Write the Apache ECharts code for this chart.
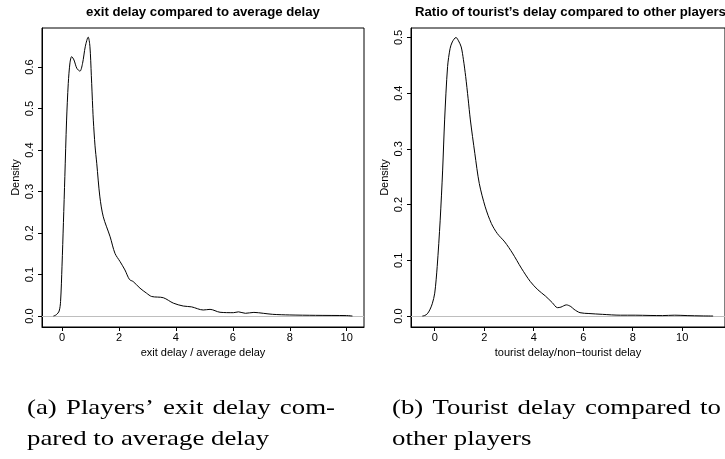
<!DOCTYPE html>
<html>
<head>
<meta charset="utf-8">
<script src="https://cdn.jsdelivr.net/npm/echarts@6/dist/echarts.min.js"></script>
<style>
html,body{margin:0;padding:0;background:#fff;}
#chart{width:725px;height:459px;}
</style>
</head>
<body>
<div id="chart"></div>
<script>
// ---- data ----
const exitX = [-0.3, -0.2, -0.1, -0.05, 0, 0.05, 0.1, 0.16, 0.22, 0.28, 0.34, 0.42, 0.52, 0.63, 0.72, 0.82, 0.92, 0.98, 1.03, 1.08, 1.1, 1.16, 1.22, 1.33, 1.45, 1.69, 1.86, 2.04, 2.21, 2.37, 2.5, 2.74, 2.97, 3.15, 3.56, 3.91, 4.26, 4.55, 4.96, 5.2, 5.55, 6.02, 6.2, 6.44, 6.74, 7.07, 7.4, 8.0, 8.9, 10.0, 10.2];
const exitY = [0, 0.003, 0.012, 0.035, 0.12, 0.225, 0.336, 0.47, 0.56, 0.61, 0.625, 0.617, 0.597, 0.59, 0.608, 0.65, 0.672, 0.65, 0.58, 0.5, 0.472, 0.41, 0.368, 0.287, 0.239, 0.191, 0.151, 0.131, 0.111, 0.088, 0.083, 0.067, 0.055, 0.047, 0.044, 0.031, 0.024, 0.022, 0.0145, 0.016, 0.009, 0.008, 0.01, 0.0065, 0.0087, 0.0065, 0.004, 0.0025, 0.0016, 0.001, 0];

const tourX = [-0.5, -0.4, -0.3, -0.2, -0.1, 0, 0.1, 0.22, 0.32, 0.4, 0.52, 0.62, 0.71, 0.86, 0.96, 1.07, 1.16, 1.25, 1.35, 1.44, 1.62, 1.8, 2.04, 2.29, 2.53, 2.83, 3.14, 3.5, 3.86, 4.17, 4.47, 4.75, 4.96, 5.1, 5.32, 5.5, 5.63, 5.87, 6.23, 6.78, 7.5, 8.1, 8.7, 9.2, 9.7, 10.2, 10.8, 11.25];
const tourY = [0, 0.001, 0.004, 0.011, 0.022, 0.041, 0.089, 0.172, 0.262, 0.352, 0.448, 0.48, 0.492, 0.5, 0.494, 0.483, 0.46, 0.43, 0.39, 0.352, 0.292, 0.238, 0.196, 0.166, 0.148, 0.133, 0.113, 0.086, 0.062, 0.047, 0.036, 0.024, 0.015, 0.016, 0.020, 0.017, 0.012, 0.006, 0.0045, 0.003, 0.0015, 0.0015, 0.001, 0.0008, 0.0015, 0.0008, 0.0002, 0];

const xTicks = [0, 2, 4, 6, 8, 10];
const yTicksA = [0, 0.1, 0.2, 0.3, 0.4, 0.5, 0.6];
const yTicksB = [0, 0.1, 0.2, 0.3, 0.4, 0.5];

const titleA = "exit delay compared to average delay";
const titleB = "Ratio of tourist\u2019s delay compared to other players";
const xNameA = "exit delay / average delay";
const xNameB = "tourist delay/non\u2212tourist delay";
const yName = "Density";

const capA1 = ["(a)", "Players\u2019", "exit", "delay", "com-"];
const capA2 = ["pared", "to", "average", "delay"];
const capB1 = ["(b)", "Tourist", "delay", "compared", "to"];
const capB2 = ["other", "players"];

// ---- layout ----
const SANS = '"Liberation Sans", Arial, sans-serif';
const SERIF_FONT = '22px "Liberation Serif", serif';
const SERIF_SX = 1.22;

const gridA = {left: 42, top: 28, width: 322, height: 299};
const gridB = {left: 411, top: 28, width: 348, height: 299};

function zip(xs, ys) { return xs.map((x, i) => [x, ys[i]]); }

function xAxisCfg(gi, min, max, name) {
  return {
    gridIndex: gi, type: 'value', min: min, max: max,
    axisLine: {show: true, onZero: false, lineStyle: {color: '#000', width: 1}},
    axisTick: {show: true, inside: false, length: 4, customValues: xTicks, lineStyle: {color: '#000', width: 1}},
    axisLabel: {customValues: xTicks, margin: 5, color: '#000', fontSize: 11, fontFamily: SANS},
    splitLine: {show: false},
    name: name, nameLocation: 'middle', nameGap: 20,
    nameTextStyle: {color: '#000', fontSize: 11, fontFamily: SANS}
  };
}
function yAxisCfg(gi, min, max, ticks) {
  return {
    gridIndex: gi, type: 'value', min: min, max: max,
    axisLine: {show: true, onZero: false, lineStyle: {color: '#000', width: 1}},
    axisTick: {show: true, inside: false, length: 4, customValues: ticks, lineStyle: {color: '#000', width: 1}},
    axisLabel: {customValues: ticks, margin: 7, rotate: 90, color: '#000', fontSize: 11, fontFamily: SANS,
      formatter: v => Number(v).toFixed(1)},
    splitLine: {show: false},
    name: yName, nameLocation: 'middle', nameGap: 21, nameRotate: 90,
    nameTextStyle: {color: '#000', fontSize: 11, fontFamily: SANS}
  };
}
function seriesCfg(idx, data) {
  return {
    type: 'line', xAxisIndex: idx, yAxisIndex: idx, data: data,
    showSymbol: false, symbol: 'none', smooth: 0.3, clip: true,
    lineStyle: {color: '#000', width: 1},
    z: 3,
    markLine: {
      silent: true, symbol: 'none', label: {show: false},
      lineStyle: {color: '#bebebe', width: 1, type: 'solid'},
      emphasis: {disabled: true},
      data: [{yAxis: 0}],
      z: 2
    }
  };
}

// caption words placement (justified first lines)
const mctx = document.createElement('canvas').getContext('2d');
function wordW(t) { mctx.font = SERIF_FONT; return mctx.measureText(t).width * SERIF_SX; }
function captionLine(words, x0, x1, baseline, justify) {
  const ws = words.map(wordW);
  const total = ws.reduce((a, b) => a + b, 0);
  const gap = justify ? (x1 - x0 - total) / (words.length - 1) : wordW(' ');
  const yMid = baseline - 0.34 * 22;
  let x = x0;
  return words.map((w, i) => {
    const el = {
      type: 'text', x: x, y: yMid, scaleX: SERIF_SX, scaleY: 1,
      style: {text: w, font: SERIF_FONT, fill: '#000', textAlign: 'left', align: 'left',
        textVerticalAlign: 'middle', verticalAlign: 'middle'}
    };
    x += ws[i] + gap;
    return el;
  });
}

const TITLE_FONT = 'bold 13.2px ' + SANS;
const graphics = [
  {type: 'text', x: gridA.left + gridA.width / 2, y: 12,
    style: {text: titleA, font: TITLE_FONT, fill: '#000', textAlign: 'center', align: 'center',
      textVerticalAlign: 'middle', verticalAlign: 'middle'}},
  {type: 'text', x: 415, y: 12,
    style: {text: titleB, font: TITLE_FONT, fill: '#000', textAlign: 'left', align: 'left',
      textVerticalAlign: 'middle', verticalAlign: 'middle'}}
].concat(
  captionLine(capA1, 27, 335, 416, true),
  captionLine(capA2, 27, 0, 447, false),
  captionLine(capB1, 392, 721, 416, true),
  captionLine(capB2, 392, 0, 447, false)
);

const chart = echarts.init(document.getElementById('chart'), null, {renderer: 'canvas'});
chart.setOption({
  animation: false,
  backgroundColor: '#fff',
  grid: [
    Object.assign({show: true, borderColor: '#000', borderWidth: 1, backgroundColor: 'transparent', containLabel: false}, gridA),
    Object.assign({show: true, borderColor: '#000', borderWidth: 1, backgroundColor: 'transparent', containLabel: false}, gridB)
  ],
  xAxis: [xAxisCfg(0, -0.7025, 10.607, xNameA), xAxisCfg(1, -0.959, 11.73, xNameB)],
  yAxis: [yAxisCfg(0, -0.0265, 0.694, yTicksA), yAxisCfg(1, -0.0197, 0.517, yTicksB)],
  series: [seriesCfg(0, zip(exitX, exitY)), seriesCfg(1, zip(tourX, tourY))],
  graphic: graphics
});
</script>
</body>
</html>
